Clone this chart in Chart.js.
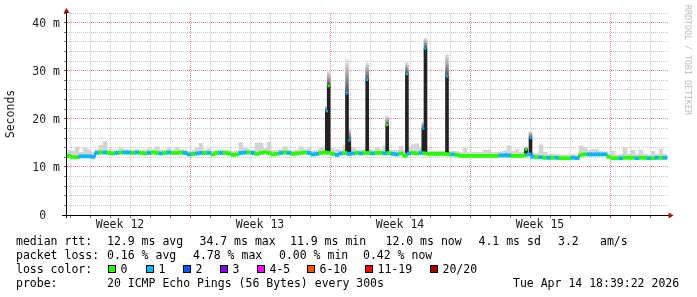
<!DOCTYPE html>
<html><head><meta charset="utf-8">
<script src="https://cdn.jsdelivr.net/npm/chart.js@4/dist/chart.umd.min.js"></script>
<style>
html,body{margin:0;padding:0;background:#fff;}
#wrap{position:relative;width:697px;height:297px;overflow:hidden;font-family:'DejaVu Sans Mono',monospace;font-size:11.5px;color:#000;}
canvas{position:absolute;left:0;top:0;}
.t{position:absolute;white-space:pre;line-height:14px;}
.sw{position:absolute;width:6px;height:6px;border:1px solid #000;}
#ylab{position:absolute;left:-20px;top:107px;width:60px;text-align:center;line-height:14px;transform:rotate(-90deg);color:#222;}
#wm{position:absolute;left:628px;top:55px;width:120px;text-align:center;font-size:8.3px;line-height:10px;transform:rotate(90deg);color:#bdbdbd;white-space:pre;}
</style></head><body>
<div id="wrap">
<canvas id="c" width="697" height="297"></canvas>
<div id="ylab">Seconds</div>
<div id="wm">RRDTOOL / TOBI OETIKER</div>
<div id="legend"></div>
</div>
<script>
// ---- data (ms) ----
const weekLabels = ['Week 12','Week 13','Week 14','Week 15'];
const weekCenters = [3.5, 10.5, 17.5, 24.5];
const lossColors = ['#26ff00','#00b8ff','#0059ff','#7e00ff','#ff00ff','#ff5500','#ff0000','#a00000'];
const lossLabels = ['0','1','2','3','4-5','6-10','11-19','20/20'];

const firstSampleDay = 0.95, sampleStepDay = 0.2; // regular RRD time grid (days since Monday of week 12)

const medianMs = [
12.3,12.0,12.0,12.2,12.2,12.2,12.1,12.9,13.0,13.0,
12.9,12.8,12.9,13.0,13.0,13.0,12.9,13.0,12.9,12.8,
12.9,13.0,12.9,12.8,12.9,13.0,12.9,12.9,13.0,12.9,
12.6,12.7,12.8,12.9,12.9,12.9,12.6,12.9,12.9,12.9,
12.8,12.5,12.6,12.9,13.0,13.0,12.9,12.7,12.9,13.0,
12.9,12.6,12.7,12.9,13.0,12.9,12.7,12.8,12.9,13.0,
12.9,12.6,12.7,12.9,13.0,12.9,12.7,12.5,12.8,12.9,
12.7,12.8,12.9,12.8,12.9,12.9,12.8,12.9,12.9,12.8,
12.9,12.7,12.6,12.8,12.3,12.8,12.9,12.8,12.9,12.8,
12.7,12.7,12.7,12.7,12.7,12.6,12.6,12.5,12.3,12.3,
12.3,12.3,12.3,12.3,12.3,12.3,12.3,12.3,12.4,12.4,
12.4,12.3,12.3,12.3,12.4,12.6,12.1,12.0,12.0,11.9,
11.9,11.9,11.9,11.8,11.8,11.8,11.9,11.8,12.5,12.6,
12.6,12.6,12.6,12.6,12.6,12.1,11.8,11.8,11.8,11.9,
11.9,11.9,11.8,11.9,11.9,11.8,11.8,11.9,11.9,11.9];

const lossCount = [
0,0,0,1,1,1,1,1,0,1, 0,0,1,0,1,1,0,1,0,0, 1,0,0,1,0,1,0,0,0,1,
1,0,1,1,0,1,0,0,1,0, 0,0,0,1,1,0,1,0,0,0, 0,0,0,1,0,1,0,0,0,0,
1,1,1,0,0,0,0,1,1,0, 1,1,0,1,0,0,1,0,0,1, 0,1,1,0,0,1,0,0,1,0,
0,0,0,0,0,0,1,0,0,0, 0,0,0,0,0,0,0,0,1,1, 1,0,0,0,0,1,1,0,1,0,
1,0,1,0,0,0,1,1,0,0, 1,1,1,1,1,0,0,0,1,0, 0,0,1,0,0,1,0,1,0,1];

const smokeTopMs = [
13.4,13.3,14.2,13.0,14.0,13.6,13.0,13.6,14.5,15.3,
13.6,13.5,13.5,14.0,13.6,13.5,13.5,13.6,13.5,13.5,
13.8,13.6,14.2,13.5,13.5,14.0,13.5,14.1,13.6,13.5,
13.3,13.4,14.0,14.9,13.5,13.8,13.3,13.5,13.6,13.5,
13.4,13.2,13.4,15.1,14.0,13.6,13.5,15.0,15.0,13.8,
15.1,13.4,13.5,13.6,14.2,13.6,13.4,13.5,14.2,13.6,
13.9,13.3,13.5,14.0,14.2,14.0,13.8,13.6,13.5,14.5,
14.0,14.0,13.6,13.5,13.6,13.6,13.5,14.0,13.6,14.4,
13.6,13.5,13.4,14.2,13.4,13.8,14.6,14.8,14.0,13.6,
13.3,13.3,13.3,13.3,13.3,13.2,13.3,13.2,13.0,13.9,
13.0,13.0,13.0,13.0,13.5,13.5,13.0,13.0,13.1,13.4,
14.4,13.2,13.6,13.0,13.2,13.4,12.9,12.8,14.6,13.0,
12.6,12.6,12.6,12.5,12.5,12.5,12.6,12.5,14.4,14.0,
13.4,13.6,13.6,13.2,13.2,12.9,13.3,12.5,12.6,14.0,
12.6,13.5,12.6,13.5,12.6,12.5,13.2,12.6,13.7,12.6];

const smokeLowMs = [
12.0,11.7,11.7,11.9,11.9,11.9,11.8,12.6,12.7,12.7,
12.6,12.5,12.6,12.7,12.7,12.7,12.6,12.7,12.6,12.5,
12.6,12.7,12.6,12.5,12.6,12.7,12.6,12.6,12.7,12.6,
12.3,12.4,12.5,12.6,12.6,12.6,12.3,12.6,12.6,12.6,
12.5,12.2,12.3,12.6,12.7,12.7,12.6,12.4,12.6,12.7,
12.6,12.3,12.4,12.6,12.7,12.6,12.4,12.5,12.6,12.7,
12.6,12.3,12.4,12.6,12.7,12.6,12.4,12.2,12.5,12.6,
12.4,12.5,12.6,12.5,12.6,12.6,12.5,12.6,12.6,12.5,
12.6,12.4,12.3,12.5,12.0,12.5,12.6,12.5,12.6,12.5,
12.4,12.4,12.4,12.4,12.4,12.3,12.3,12.2,12.0,12.0,
12.0,12.0,12.0,12.0,12.0,12.0,12.0,12.0,12.1,12.1,
12.1,12.0,12.0,12.0,12.1,12.3,11.8,11.7,11.7,11.6,
11.6,11.6,11.6,11.5,11.5,11.5,11.6,11.5,12.2,12.3,
12.3,12.3,12.3,12.3,12.3,11.8,11.5,11.5,11.5,11.6,
11.6,11.6,11.5,11.6,11.6,11.5,11.5,11.6,11.6,11.6];

// short latency spikes
const spikeDay      = [13.84, 13.935, 14.85, 14.965, 15.86, 16.86, 17.845, 18.665, 18.775, 19.85, 23.8, 24.025];
const spikeBaseMs   = [12.9, 12.9, 12.9, 12.8, 12.9, 12.9, 12.9, 12.9, 12.9, 12.8, 12.4, 12.4];
const spikePeakMs   = [21.6, 26.8, 25.3, 15.5, 28.1, 18.7, 29.3, 18.0, 34.6, 28.8, 13.6, 16.0];
const spikeSmokeMs  = [22.6, 29.9, 32.3, 18.0, 31.7, 20.6, 31.7, 19.3, 36.8, 33.5, 14.2, 17.4];
const spikeLoss     = [1, 0, 1, 1, 1, 0, 1, 1, 1, 1, 0, 1];

const yTickStep = 2, yMax = 42;
const xMin = 0.85, xMax = 30.95;

// ---- build ----
const sampleDays = medianMs.map((_, i) => firstSampleDay + i * sampleStepDay);
const lossColor = n => lossColors[n <= 3 ? n : n <= 5 ? 4 : n <= 10 ? 5 : n <= 19 ? 6 : 7];
const dayTicks = [];
for (let d = 1; d <= 30; d++) dayTicks.push(d);
const allXTicks = dayTicks.concat(weekCenters).sort((a, b) => a - b);
const isWeekCenter = v => weekCenters.includes(v);

const BAND = 0.32; // half thickness of the loss-colour band (style)

const gridMinor = '#c8c8c8', gridMajor = '#e08c8c';

const axesPlugin = {
  id: 'rrdAxes',
  afterDraw(chart) {
    const c = chart.ctx, a = chart.chartArea;
    c.save();
    c.strokeStyle = '#000'; c.lineWidth = 1;
    c.beginPath();
    c.moveTo(a.left - 0.5, a.bottom + 3); c.lineTo(a.left - 0.5, a.top - 3);
    c.moveTo(a.left - 5, a.bottom + 0.5); c.lineTo(a.right, a.bottom + 0.5);
    c.stroke();
    c.fillStyle = '#a01010';
    c.beginPath();
    c.moveTo(a.left - 3.5, a.top); c.lineTo(a.left + 2.5, a.top); c.lineTo(a.left - 0.5, a.top - 5); c.closePath(); c.fill();
    c.beginPath();
    c.moveTo(a.right - 0.5, a.bottom - 2.5); c.lineTo(a.right - 0.5, a.bottom + 3.5); c.lineTo(a.right + 4.5, a.bottom + 0.5); c.closePath(); c.fill();
    c.restore();
  }
};

const font = { family: 'DejaVu Sans Mono', size: 11.5 };

new Chart(document.getElementById('c'), {
  type: 'bar',
  data: {
    datasets: [
      { // smoke
        type: 'bar', order: 6, grouped: false, barThickness: 4,
        data: smokeLowMs.map((lo, i) => ({ x: sampleDays[i], y: [lo, smokeTopMs[i]] })),
        backgroundColor: '#d4d4d4', borderWidth: 0
      },
      { // smoke above spikes
        type: 'bar', order: 5, grouped: false, barThickness: 3,
        data: spikeDay.map((d, i) => ({ x: d, y: [spikePeakMs[i], spikeSmokeMs[i]] })),
        backgroundColor(ctx) {
          const ch = ctx.chart, y = ch.scales.y, i = ctx.dataIndex;
          if (!ch.chartArea || i === undefined) return '#aaa';
          const y0 = y.getPixelForValue(spikePeakMs[i]), y1 = y.getPixelForValue(spikeSmokeMs[i]);
          if (!isFinite(y0) || !isFinite(y1) || y0 === y1) return '#aaa';
          const g = ch.ctx.createLinearGradient(0, y0, 0, y1);
          g.addColorStop(0, '#505050'); g.addColorStop(1, '#e6e6e6');
          return g;
        },
        borderWidth: 0
      },
      { // median line (dark)
        type: 'line', order: 4,
        data: medianMs.map((v, i) => ({ x: sampleDays[i], y: v })),
        borderColor: '#202020', borderWidth: 1, stepped: 'middle', pointRadius: 0, fill: false
      },
      { // spikes
        type: 'bar', order: 3, grouped: false, barThickness: 3,
        data: spikeDay.map((d, i) => ({ x: d, y: [spikeBaseMs[i], spikePeakMs[i]] })),
        backgroundColor: '#222222', borderWidth: 0
      },
      { // loss colour band around median
        type: 'bar', order: 2, grouped: false, barThickness: 4,
        data: medianMs.map((v, i) => ({ x: sampleDays[i], y: [v - BAND, v + BAND] })),
        backgroundColor: lossCount.map(lossColor), borderWidth: 0
      },
      { // loss colour at spike tops
        type: 'line', order: 1, showLine: false,
        data: spikeDay.map((d, i) => ({ x: d, y: spikePeakMs[i] })),
        pointStyle: 'rect', pointRadius: 1.6, pointBorderWidth: 0,
        pointBackgroundColor: spikeLoss.map(lossColor)
      }
    ]
  },
  options: {
    responsive: false, animation: false, events: [],
    devicePixelRatio: 1,
    layout: { padding: { left: 0, right: 28, top: 13, bottom: 62 } },
    plugins: { legend: { display: false }, tooltip: { enabled: false } },
    scales: {
      x: {
        type: 'linear', min: xMin, max: xMax, offset: false,
        afterBuildTicks(s) { s.ticks = allXTicks.map(v => ({ value: v })); },
        afterFit(s) { s.height = 20; },
        grid: {
          offset: false, drawOnChartArea: true, lineWidth: 1, tickLength: 3,
          color(c) { const v = c.tick && c.tick.value; if (v === undefined || isWeekCenter(v)) return 'rgba(0,0,0,0)'; return v % 7 === 0 ? gridMajor : gridMinor; },
          tickColor(c) { const v = c.tick && c.tick.value; if (v === undefined || isWeekCenter(v)) return 'rgba(0,0,0,0)'; return v % 7 === 0 ? '#c04040' : '#777'; }
        },
        border: { display: false, dash: [1, 1] },
        ticks: {
          autoSkip: false, maxRotation: 0, minRotation: 0, padding: 0, color: '#222', font,
          callback(v) { const k = weekCenters.indexOf(v); return k >= 0 ? weekLabels[k] : ''; }
        }
      },
      y: {
        type: 'linear', min: 0, max: yMax,
        afterFit(s) { s.width = 67; },
        grid: {
          lineWidth: 1, tickLength: 3,
          color(c) { const v = c.tick && c.tick.value; if (v === undefined || v === 0) return 'rgba(0,0,0,0)'; return v % 10 === 0 ? gridMajor : gridMinor; },
          tickColor(c) { const v = c.tick && c.tick.value; return v % 10 === 0 ? '#c04040' : '#777'; }
        },
        border: { display: false, dash: [1, 1] },
        ticks: {
          stepSize: yTickStep, autoSkip: false, padding: 4, labelOffset: 1.5, color: '#222', font,
          callback(v) { if (v % 10 !== 0) return ''; return v === 0 ? '0  ' : v + ' m'; }
        }
      }
    }
  },
  plugins: [axesPlugin]
});

// ---- legend text ----
const legendTexts = [
  ['median rtt:', 16, 234], ['12.9 ms avg', 107, 234], ['34.7 ms max', 199.5, 234], ['11.9 ms min', 290, 234],
  ['12.0 ms now', 385.5, 234], ['4.1 ms sd', 478.5, 234], ['3.2', 558, 234], ['am/s', 600, 234],
  ['packet loss:', 16, 248], ['0.16 % avg', 107, 248], ['4.78 % max', 193, 248], ['0.00 % min', 279, 248], ['0.42 % now', 363, 248],
  ['loss color:', 16, 262],
  ['probe:', 16, 276], ['20 ICMP Echo Pings (56 Bytes) every 300s', 107, 276], ['Tue Apr 14 18:39:22 2026', 513, 276]
];
const swatchX = [108, 146, 183, 220, 257, 307, 365, 430];
const lg = document.getElementById('legend');
let html = '';
legendTexts.forEach(([s, x, y]) => { html += `<div class="t" style="left:${x}px;top:${y}px">${s}</div>`; });
lossLabels.forEach((lab, k) => {
  html += `<div class="sw" style="left:${swatchX[k]}px;top:265px;background:${lossColors[k]}"></div>`;
  html += `<div class="t" style="left:${swatchX[k] + 12.5}px;top:262px">${lab}</div>`;
});
lg.innerHTML = html;
</script>
</body></html>
